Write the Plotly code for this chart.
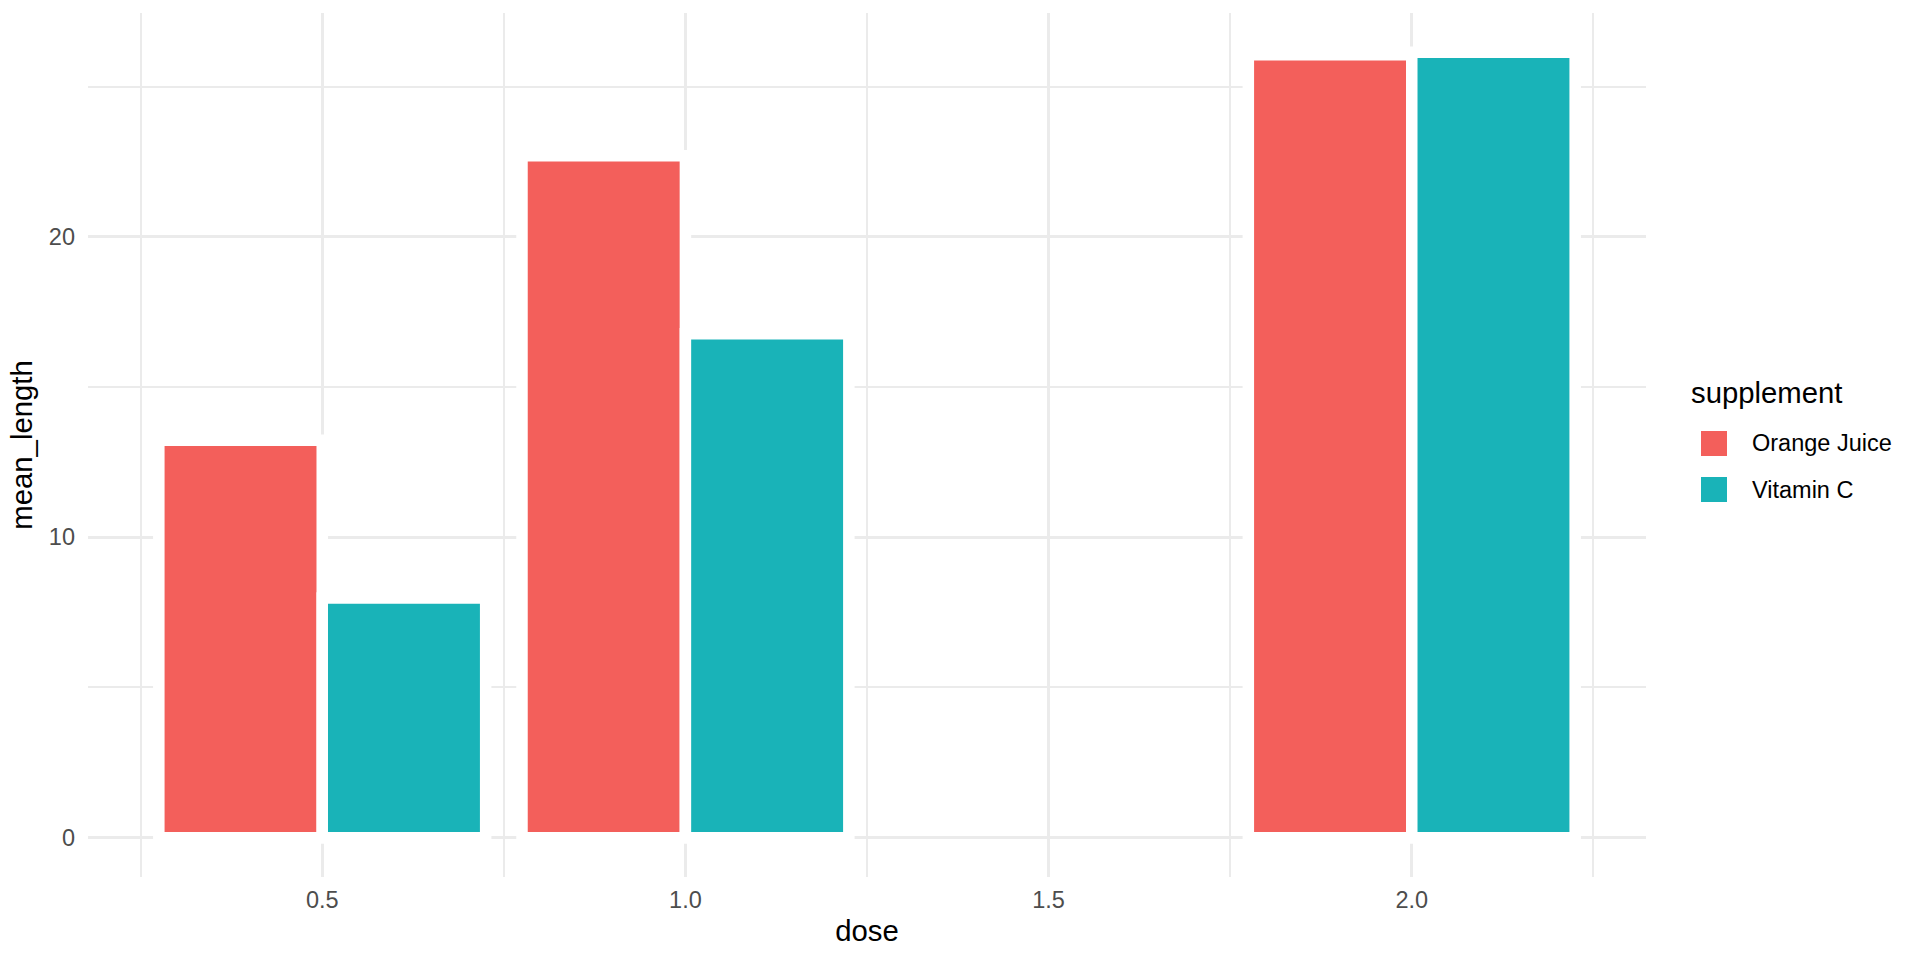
import plotly.graph_objects as go

# ---- data ----
dose = [0.5, 1.0, 2.0]
dose_labels = ["0.5", "1.0", "1.5", "2.0"]
dose_ticks = [0.5, 1.0, 1.5, 2.0]
supplements = ["Orange Juice", "Vitamin C"]
oj_mean_length = [13.23, 22.70, 26.06]
vc_mean_length = [7.98, 16.77, 26.14]
y_ticks = [0, 10, 20]
y_minor = [5, 15, 25]
x_minor = [0.25, 0.75, 1.25, 1.75, 2.25]

# ---- style ----
COLORS = ["#F35F5B", "#19B3B8"]
BAR_W = 0.225
FONT = "Liberation Sans"
GRID = "#EBEBEB"

W, H = 1920, 960
ML, MR, MT, MB = 88, 274, 13, 83
PW, PH = W - ML - MR, H - MT - MB


def px_x(px):
    return (px - ML) / PW


def px_y(py):
    return (H - MB - py) / PH


fig = go.Figure()
for vals, col, off, name in [
    (oj_mean_length, COLORS[0], -BAR_W, supplements[0]),
    (vc_mean_length, COLORS[1], 0.0, supplements[1]),
]:
    fig.add_trace(go.Bar(
        x=dose, y=vals, width=BAR_W, offset=off, name=name,
        marker=dict(color=col, line=dict(color="white", width=11.5)),
        showlegend=False,
    ))

ymax = max(max(oj_mean_length), max(vc_mean_length))
yexp = 0.05 * ymax
xlo, xhi = min(dose) - BAR_W, max(dose) + BAR_W
xexp = 0.05 * (xhi - xlo)

fig.update_layout(
    width=W, height=H,
    margin=dict(l=ML, r=MR, t=MT, b=MB, pad=0),
    paper_bgcolor="white", plot_bgcolor="white",
    barmode="overlay",
    font=dict(family=FONT, color="black"),
    xaxis=dict(
        range=[xlo - xexp, xhi + xexp],
        tickvals=dose_ticks, ticktext=dose_labels,
        showgrid=True, gridcolor=GRID, gridwidth=3.2,
        minor=dict(tickvals=x_minor, showgrid=True, gridcolor=GRID, gridwidth=1.9),
        zeroline=False, showline=False, ticks="",
        tickfont=dict(size=23.5, color="#4D4D4D", family=FONT),
        ticklabelstandoff=6,
        title=dict(text="dose", font=dict(size=29.3, color="black", family=FONT), standoff=8),
        automargin=False,
    ),
    yaxis=dict(
        range=[-yexp, ymax + yexp],
        tickvals=y_ticks, ticktext=[str(v) for v in y_ticks],
        showgrid=True, gridcolor=GRID, gridwidth=3.2,
        minor=dict(tickvals=y_minor, showgrid=True, gridcolor=GRID, gridwidth=1.9),
        zeroline=False, showline=False, ticks="",
        tickfont=dict(size=23.5, color="#4D4D4D", family=FONT),
        ticklabelstandoff=12,
        title=dict(text="mean_length", font=dict(size=29.3, color="black", family=FONT), standoff=7.5),
        automargin=False,
    ),
    showlegend=False,
)

# ---- manual legend (ggplot-style) ----
fig.add_annotation(
    xref="paper", yref="paper", x=px_x(1689), y=px_y(393),
    xanchor="left", yanchor="middle", showarrow=False,
    text="supplement", font=dict(size=29.3, color="black", family=FONT),
)
key_tops = [431, 477]
for name, col, top in zip(supplements, COLORS, key_tops):
    fig.add_shape(
        type="rect", xref="paper", yref="paper",
        x0=px_x(1701), x1=px_x(1727), y0=px_y(top), y1=px_y(top + 25),
        fillcolor=col, line=dict(width=0), layer="above",
    )
    fig.add_annotation(
        xref="paper", yref="paper", x=px_x(1750), y=px_y(top + 12.5),
        xanchor="left", yanchor="middle", showarrow=False,
        text=name, font=dict(size=23.5, color="black", family=FONT),
    )

fig.write_html(
    "out.html",
    config={"displayModeBar": False},
    post_script="document.body.style.margin='0';document.body.style.overflow='hidden';",
)
